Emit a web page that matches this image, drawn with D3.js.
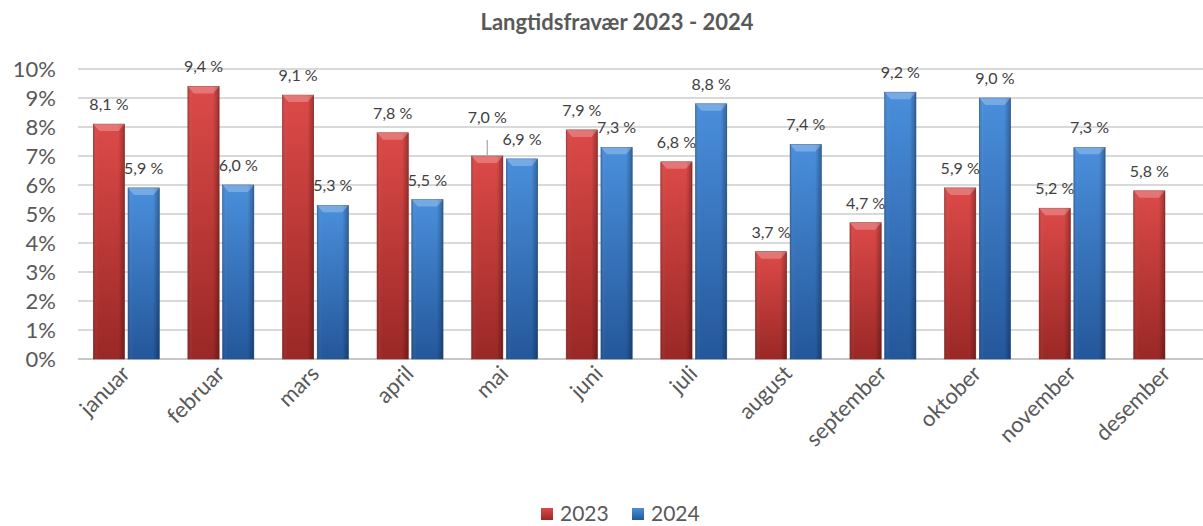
<!DOCTYPE html>
<html><head><meta charset="utf-8">
<script src="https://cdn.jsdelivr.net/npm/d3@7"></script>
<style>body{margin:0;background:#fff}svg{display:block}text{font-family:Lato,"Open Sans",sans-serif}</style>
</head><body><svg id="c" width="1203" height="526"></svg>
<script>
const months = ["januar","februar","mars","april","mai","juni","juli","august","september","oktober","november","desember"];
const series = ["2023","2024"];
const v2023 = [8.1,9.4,9.1,7.8,7.0,7.9,6.8,3.7,4.7,5.9,5.2,5.8];
const v2024 = [5.9,6.0,5.3,5.5,6.9,7.3,8.8,7.4,9.2,9.0,7.3,null];
const yTicks = [0,1,2,3,4,5,6,7,8,9,10];
const title = "Langtidsfravær 2023 - 2024";

const svg = d3.select("#c");
const x = d3.scaleBand().domain(months).range([79,1214]);
const xs = d3.scaleBand().domain(series).range([-33,33]).paddingInner(0.1);
const y = d3.scaleLinear().domain([0,10]).range([359,69]);

const colors = {"2023":["#dc4a48","#c93a38","#9a2826"], "2024":["#4a8fdc","#3a78c6","#24579a"]};
const defs = svg.append("defs");
series.forEach(s=>{
  const c = colors[s];
  const g = defs.append("linearGradient").attr("id","g"+s).attr("x1",0).attr("y1",0).attr("x2",0).attr("y2",1);
  g.append("stop").attr("offset","0%").attr("stop-color",c[0]);
  g.append("stop").attr("offset","100%").attr("stop-color",c[2]);
  const h = defs.append("linearGradient").attr("id","h"+s).attr("x1",0).attr("y1",0).attr("x2",1).attr("y2",0);
  h.append("stop").attr("offset","0%").attr("stop-color","#000").attr("stop-opacity",0.15);
  h.append("stop").attr("offset","15%").attr("stop-color","#fff").attr("stop-opacity",0.0);
  h.append("stop").attr("offset","80%").attr("stop-color","#000").attr("stop-opacity",0.0);
  h.append("stop").attr("offset","100%").attr("stop-color","#000").attr("stop-opacity",0.3);
});

// title
svg.append("text").attr("x",617).attr("y",30).attr("text-anchor","middle")
  .attr("font-size",22).attr("font-weight","bold").attr("fill","#595959").text(title);

// gridlines + y labels
svg.append("g").selectAll("line").data(yTicks).join("line")
  .attr("x1",78).attr("x2",1203).attr("y1",d=>y(d)).attr("y2",d=>y(d))
  .attr("stroke",d=>d===0?"#c8c8c8":"#d9d9d9").attr("stroke-width",2);
svg.append("g").selectAll("text").data(yTicks).join("text")
  .attr("x",56).attr("y",d=>y(d)+8).attr("text-anchor","end")
  .attr("font-size",22).attr("fill","#595959").text(d=>d+"%");

// bars
const data = [];
months.forEach((m,i)=>{
  [[ "2023",v2023[i]],["2024",v2024[i]]].forEach(([s,v])=>{ if(v!=null) data.push({m,s,v}); });
});
const bx = d=>x(d.m)+x.bandwidth()/2+xs(d.s);
const bw = xs.bandwidth();
const bars = svg.append("g").selectAll("g").data(data).join("g");
bars.append("rect").attr("x",bx).attr("y",d=>y(d.v)).attr("width",bw).attr("height",d=>y(0)-y(d.v))
  .attr("fill",d=>"url(#g"+d.s+")").attr("stroke",d=>colors[d.s][2]).attr("stroke-width",0.6);
bars.append("rect").attr("x",bx).attr("y",d=>y(d.v)).attr("width",bw).attr("height",d=>y(0)-y(d.v))
  .attr("fill",d=>"url(#h"+d.s+")");
// top bevel
bars.append("path").attr("d",d=>{const x0=bx(d),t=y(d.v);return `M${x0},${t}L${x0+bw},${t}L${x0+bw-6},${t+7}L${x0+6},${t+7}Z`;})
  .attr("fill","#fff").attr("opacity",0.25);

// labels
const fmt = v=>v.toFixed(1).replace(".",",")+" %";
const lift = d=>(d.m==="mai"&&d.s==="2023")?33:14;
bars.append("text").attr("x",d=>bx(d)+bw/2).attr("y",d=>y(d.v)-lift(d))
  .attr("text-anchor","middle").attr("font-size",16).attr("fill","#404040").text(d=>fmt(d.v));
bars.filter(d=>d.m==="mai"&&d.s==="2023").append("line")
  .attr("x1",d=>bx(d)+bw/2).attr("x2",d=>bx(d)+bw/2).attr("y1",d=>y(d.v)-1).attr("y2",d=>y(d.v)-16)
  .attr("stroke","#a6a6a6").attr("stroke-width",1.2);

// x labels
svg.append("g").selectAll("text").data(months).join("text")
  .attr("transform",d=>`translate(${x(d)+x.bandwidth()/2+5},${375}) rotate(-45)`)
  .attr("text-anchor","end").attr("font-size",22).attr("fill","#595959").text(d=>d);

// legend
const leg = svg.append("g").selectAll("g").data(series).join("g")
  .attr("transform",(d,i)=>`translate(${541+i*91},0)`);
leg.append("rect").attr("x",0).attr("y",508).attr("width",12).attr("height",12)
  .attr("fill",d=>"url(#g"+d+")");
leg.append("text").attr("x",19).attr("y",521).attr("font-size",21).attr("fill","#595959").text(d=>d);
</script></body></html>
